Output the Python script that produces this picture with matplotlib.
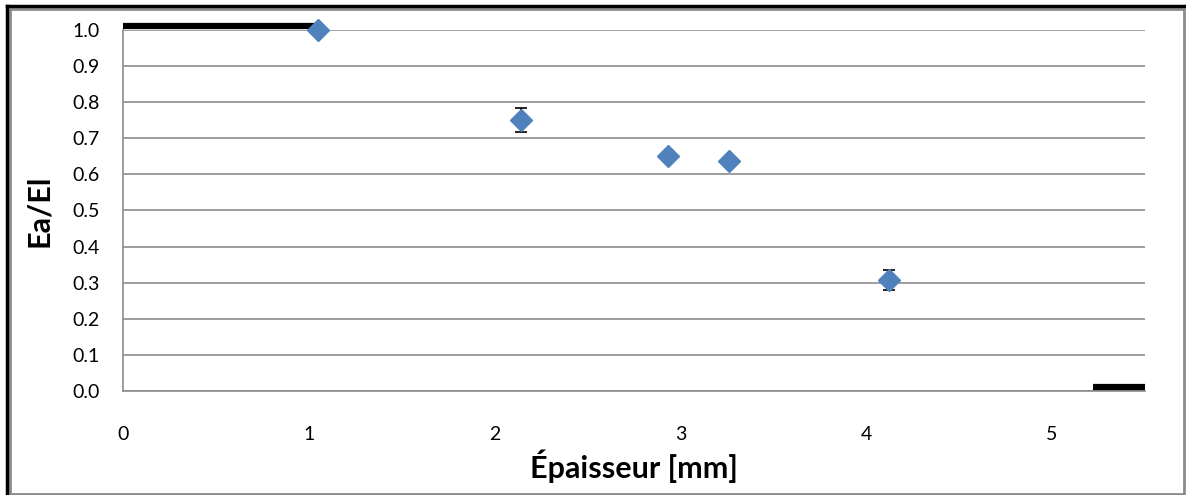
import matplotlib.pyplot as plt
from matplotlib.lines import Line2D
from matplotlib.patches import Rectangle

# measured points (thickness in mm, Ea/El ratio, std)
thickness = [1.05, 2.14, 2.935, 3.26, 4.12]
ratio = [1.0, 0.75, 0.651, 0.637, 0.308]
ratio_err = [0.0, 0.033, 0.010, 0.010, 0.027]

# black reference segments
ref_top_x = [0.0, 1.04]
ref_top_y = [1.012, 1.012]
ref_bottom_x = [5.22, 5.5]
ref_bottom_y = [0.012, 0.012]

x_ticks = [0, 1, 2, 3, 4, 5]
y_ticks = [0.0, 0.1, 0.2, 0.3, 0.4, 0.5, 0.6, 0.7, 0.8, 0.9, 1.0]

plt.rcParams["font.family"] = ["Lato", "DejaVu Sans"]

fig = plt.figure(figsize=(11.86, 4.95), dpi=100)
ax = fig.add_axes([0.1037, 0.2101, 0.8617, 0.7293])

ax.set_xlim(0, 5.5)
ax.set_ylim(0, 1.0)
ax.set_xticks(x_ticks)
ax.set_yticks(y_ticks)
ax.set_yticklabels([f"{v:.1f}" for v in y_ticks])
ax.tick_params(length=0, labelsize=14)
ax.tick_params(axis="y", pad=17)
ax.tick_params(axis="x", pad=25)

ax.grid(axis="y", color="#8c8c8c", linewidth=1.2)
ax.set_axisbelow(True)
for side in ["top", "right"]:
    ax.spines[side].set_visible(False)
for side in ["left", "bottom"]:
    ax.spines[side].set_color("#8c8c8c")
    ax.spines[side].set_linewidth(1.2)

ax.plot(ref_top_x, ref_top_y, color="black", linewidth=4.5,
        solid_capstyle="butt", clip_on=False, zorder=3)
ax.plot(ref_bottom_x, ref_bottom_y, color="black", linewidth=4.5,
        solid_capstyle="butt", clip_on=False, zorder=3)

ax.errorbar(thickness, ratio, yerr=ratio_err, fmt="none", ecolor="black",
            elinewidth=1.2, capsize=4, capthick=1.2, zorder=4, clip_on=False)
ax.plot(thickness, ratio, linestyle="none", marker="D", markersize=11,
        color="#4f81bd", zorder=5, clip_on=False)

ax.set_xlabel("Épaisseur [mm]", fontsize=22, fontweight="bold", labelpad=5)
ax.set_ylabel("Ea/El", fontsize=22, fontweight="bold", labelpad=14)

# chart frame, excel style
fig.add_artist(Rectangle((10 / 1186, 1 / 495), 1174 / 1186, 485 / 495,
                         transform=fig.transFigure, fill=False,
                         edgecolor="#8c8c8c", linewidth=2))
fig.add_artist(Line2D([7 / 1186, 1.0], [489 / 495, 489 / 495],
                      transform=fig.transFigure, color="black", linewidth=2.5))
fig.add_artist(Line2D([7 / 1186, 7 / 1186], [0.0, 489 / 495],
                      transform=fig.transFigure, color="black", linewidth=2.5))

fig.savefig("out.png", dpi=100)
